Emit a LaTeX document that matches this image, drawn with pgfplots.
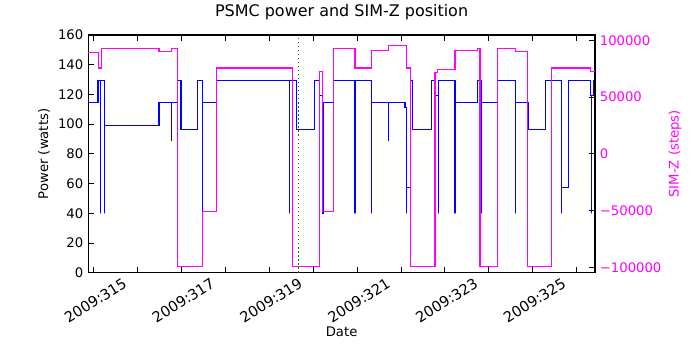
\documentclass[border=0pt]{standalone}
\usepackage{fontspec}
\setmainfont{DejaVu Sans}
\usepackage{pgfplots}
\pgfplotsset{compat=1.18}

\definecolor{pwrblue}{rgb}{0,0,1}
\definecolor{simzmag}{rgb}{1,0,1}
\definecolor{dotgreen}{rgb}{0,0.5,0}

% power (W) and SIM-Z (steps), step data, x in day of year 2009
\pgfplotstableread{
day     watts
313.877 114.4
314.100 129.2
314.160 40
314.160 129.2
314.255 40
314.255 99.4
315.490 114.4
315.770 88.7
315.770 114.4
315.916 129.2
315.990 96.7
316.371 129.2
316.485 40
316.485 114.4
316.804 129.2
318.458 40
318.458 129.2
318.626 96.7
319.027 129.2
319.141 119.5
319.210 40
319.225 114.4
319.460 129.2
319.954 40
319.954 129.2
320.335 40
320.335 114.4
320.713 88.7
320.713 114.4
321.093 111.5
321.132 40
321.132 57.5
321.220 129.2
321.270 96.7
321.686 129.2
321.790 119.5
321.860 40
321.860 129.2
322.232 40
322.232 114.4
322.740 129.2
322.825 40
322.825 114.4
323.196 129.2
323.614 40
323.614 114.4
323.903 96.7
324.298 129.2
324.663 40
324.663 57.5
324.813 129.2
325.308 119.5
325.346 40
325.346 119.5
325.380 129.2
325.420 129.2
}\powertab

\pgfplotstableread{
day     steps
313.877 89500
314.105 75624
314.190 92904
315.490 90600
315.770 92904
315.916 -99616
316.485 -50505
316.804 75624
318.535 -99616
319.141 72200
319.219 -50505
319.460 92904
319.954 75624
320.335 91200
320.713 95600
321.132 75624
321.223 -99616
321.775 72000
321.840 74500
322.232 91200
322.740 92904
322.800 -99616
323.196 92904
323.614 90300
323.880 -99616
324.420 75624
325.324 72600
325.420 72600
}\simztab

\pgfplotsset{
  twin/.style={
    scale only axis, width=364.9pt, height=171.1pt,
    at={(63.5pt,55.66pt)}, anchor=south west,
    xmin=313.877, xmax=325.42,
    tick align=inside,
    major tick length=4pt, minor tick length=4pt,
    axis line style={line width=0.8pt},
    tick style={black, line width=0.6pt},
    ticklabel style={font=\fontsize{9.5}{11}\selectfont},
    label style={font=\fontsize{9.5}{11}\selectfont},
    /pgf/number format/assume math mode=true,
  }
}

\begin{document}
\begin{tikzpicture}
\path[use as bounding box] (0,0) rectangle (504pt,252pt);

\begin{axis}[twin,
  ymin=0, ymax=160, ytick={0,20,...,160},
  ytick pos=left,
  xtick={315,317,...,325},
  minor xtick={314,316,...,324},
  xticklabels={2009:315,2009:317,2009:319,2009:321,2009:323,2009:325},
  xticklabel style={xshift=-11pt, yshift=-3pt, inner sep=0pt, rotate=32, anchor=north east, font=\fontsize{10.5}{12}\selectfont},
  xlabel={Date},
  xlabel style={at={(axis description cs:0.5,-0.25)}, anchor=center},
  ylabel={Power (watts)},
  ylabel style={at={(axis description cs:-0.087,0.5)}, anchor=center},
  title={PSMC power and SIM-Z position},
  title style={at={(axis description cs:0.5,1.063)}, anchor=center, font=\fontsize{11.5}{13}\selectfont},
]
\addplot[pwrblue, line width=0.8pt, const plot mark left] table[x=day, y=watts] {\powertab};
\addplot[dotgreen, line width=0.9pt, dotted] coordinates {(318.66,0) (318.66,160)};
\end{axis}

\begin{axis}[twin,
  axis x line=none, axis y line*=right,
  ymin=-104700, ymax=104700,
  scaled y ticks=false,
  ytick={-100000,-50000,0,50000,100000},
  yticklabels={−100000,−50000,0,50000,100000},
  yticklabel style={text=simzmag},
  ylabel={SIM-Z (steps)},
  ylabel style={at={(axis description cs:1.158,0.5)}, anchor=center, text=simzmag},
]
\addplot[simzmag, line width=0.8pt, const plot mark left] table[x=day, y=steps] {\simztab};
\end{axis}
\end{tikzpicture}
\end{document}
